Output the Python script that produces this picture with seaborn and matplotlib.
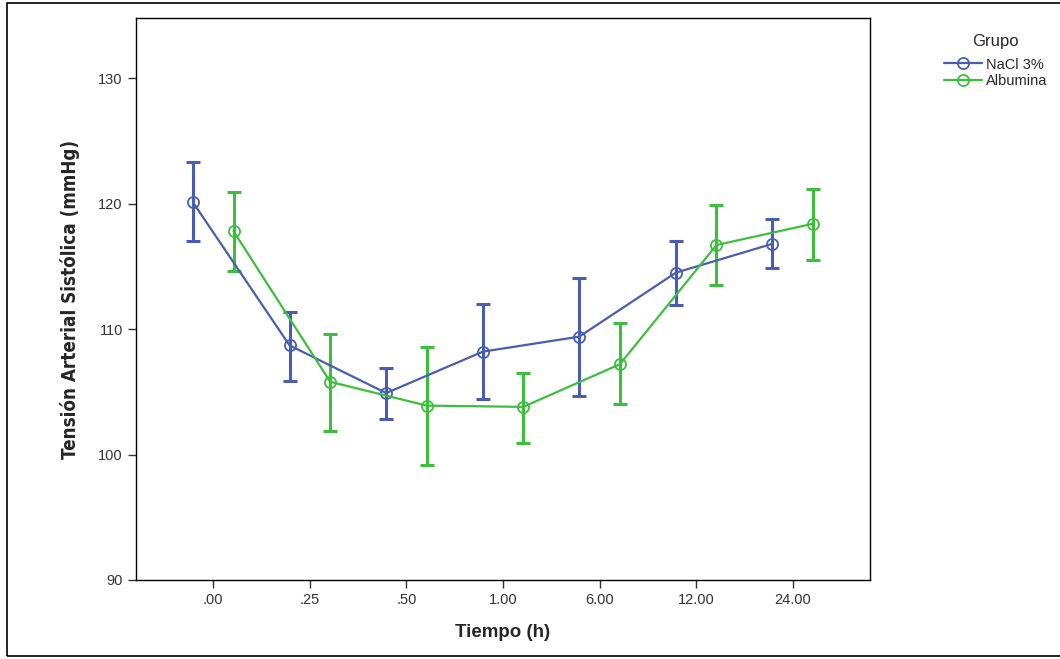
import pandas as pd
import seaborn as sns
import matplotlib.pyplot as plt
from matplotlib.patches import Rectangle

# values (mean and 95% CI per group and time)
tiempos = ['.00', '.25', '.50', '1.00', '6.00', '12.00', '24.00']
grupos = ['NaCl 3%', 'Albumina']

nacl_mean = [120.1, 108.7, 104.9, 108.2, 109.4, 114.5, 116.8]
nacl_lo = [117.0, 105.9, 102.8, 104.4, 104.7, 111.9, 114.9]
nacl_hi = [123.3, 111.4, 106.9, 112.0, 114.1, 117.0, 118.8]

alb_mean = [117.8, 105.8, 103.9, 103.8, 107.2, 116.7, 118.4]
alb_lo = [114.6, 101.9, 99.2, 100.9, 104.0, 113.5, 115.5]
alb_hi = [120.9, 109.6, 108.6, 106.5, 110.5, 119.9, 121.2]

colores = {'NaCl 3%': '#4a5db5', 'Albumina': '#3dbf3d'}

df = pd.concat([
    pd.DataFrame({'Tiempo': tiempos, 'Grupo': 'NaCl 3%', 'TAS': nacl_mean, 'lo': nacl_lo, 'hi': nacl_hi}),
    pd.DataFrame({'Tiempo': tiempos, 'Grupo': 'Albumina', 'TAS': alb_mean, 'lo': alb_lo, 'hi': alb_hi}),
], ignore_index=True)

sns.set_style('white')
plt.rcParams['font.family'] = ['Liberation Sans', 'DejaVu Sans']

fig = plt.figure(figsize=(10.6, 6.59), dpi=100)
ax = fig.add_axes([0.1283, 0.1199, 0.6925, 0.8528])

sns.pointplot(data=df, x='Tiempo', y='TAS', hue='Grupo', order=tiempos, hue_order=grupos,
              palette=colores, dodge=0.42, errorbar=None, markers='o', linestyles='-',
              markersize=8, linewidth=1.6, ax=ax)

# open circles + error bars at the dodged positions seaborn used
for line, g in zip(ax.lines[:2], grupos):
    line.set_markerfacecolor('none')
    line.set_markeredgewidth(1.3)
    sub = df[df['Grupo'] == g]
    xs = line.get_xdata()
    ax.errorbar(xs, sub['TAS'], yerr=[sub['TAS'] - sub['lo'], sub['hi'] - sub['TAS']],
                fmt='none', ecolor=colores[g], elinewidth=2.2, capsize=5, capthick=2.2, zorder=1)

ax.set_ylim(90, 134.8)
ax.set_xlim(-0.8, 6.8)
ax.set_yticks([90, 100, 110, 120, 130])
ax.tick_params(axis='both', direction='out', length=6, width=1, color='#333333',
               labelsize=10.5, labelcolor='#333333', left=True, bottom=True)
for s in ax.spines.values():
    s.set_color('black')
    s.set_linewidth(1)

ax.set_xlabel('Tiempo (h)', fontsize=13.5, fontweight='bold', labelpad=12)
ax.set_ylabel('Tensión Arterial Sistólica (mmHg)', fontsize=13.5, fontweight='bold',
              family='DejaVu Sans', fontstretch='condensed', labelpad=13)

ax.get_legend().remove()
handles = [plt.Line2D([], [], color=colores[g], marker='o', markerfacecolor='none',
                      markersize=8, markeredgewidth=1.3, linewidth=1.6) for g in grupos]
leg = fig.legend(handles, grupos, title='Grupo', loc='upper left', bbox_to_anchor=(0.878, 0.968),
                 frameon=False, fontsize=10.5, title_fontsize=12, handlelength=2.6,
                 handletextpad=0.3, labelspacing=0.2)
leg._legend_box.sep = 6

# outer frame like the original export
fig.patches.append(Rectangle((0.007, 0.004), 1.1, 0.992, transform=fig.transFigure,
                             fill=False, edgecolor='black', linewidth=1.2))

fig.savefig('out.png', dpi=100)
